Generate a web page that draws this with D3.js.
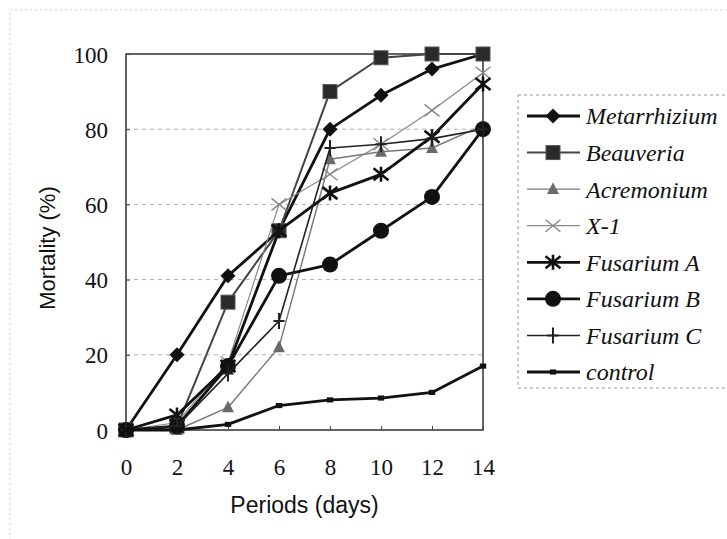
<!DOCTYPE html>
<html>
<head>
<meta charset="utf-8">
<script src="https://cdn.jsdelivr.net/npm/d3@7"></script>
<style>
body { margin: 0; background: #fff; }
svg { display: block; }
</style>
</head>
<body>
<svg id="chart" width="727" height="539"></svg>
<script>
// days on the x axis
var days = [0, 2, 4, 6, 8, 10, 12, 14];
var yTicks = [0, 20, 40, 60, 80, 100];

var metarrhizium = [0, 20, 41, 53, 80, 89, 96, 100];
var beauveria    = [0, 1, 34, 53, 90, 99, 100, 100];
var acremonium   = [0, 0, 6, 22, 72, 74, 75, 81];
var x1           = [0, 2, 18, 60, 68, 76, 85, 95];
var fusariumA    = [0, 4, 17, 53, 63, 68, 78, 92];
var fusariumB    = [0, 1, 17, 41, 44, 53, 62, 80];
var fusariumC    = [0, 1, 15, 29, 75, 76, 77.5, 80];
var control      = [0, 0, 1.5, 6.5, 8, 8.5, 10, 17];

var seriesNames = ["Metarrhizium", "Beauveria", "Acremonium", "X-1",
                   "Fusarium A", "Fusarium B", "Fusarium C", "control"];
var seriesValues = [metarrhizium, beauveria, acremonium, x1,
                    fusariumA, fusariumB, fusariumC, control];

// look of each series
var styles = [
  {line: "#111", width: 2.8, marker: "diamond",  fill: "#111", size: 7.5},
  {line: "#444", width: 2.0, marker: "square",   fill: "#2a2a2a", size: 7},
  {line: "#777", width: 1.4, marker: "triangle", fill: "#6a6a6a", size: 7},
  {line: "#888", width: 1.2, marker: "cross",    fill: "none", size: 7.5},
  {line: "#111", width: 2.8, marker: "asterisk", fill: "none", size: 7.5},
  {line: "#111", width: 2.8, marker: "circle",   fill: "#111", size: 8},
  {line: "#222", width: 1.6, marker: "plus",     fill: "none", size: 8},
  {line: "#111", width: 2.8, marker: "dash",     fill: "#111", size: 3.2}
];

var svg = d3.select("#chart");
var margin = {top: 54, left: 126, right: 244, bottom: 109};
var width = 727 - margin.left - margin.right;
var height = 539 - margin.top - margin.bottom;

var x = d3.scaleLinear().domain([0, 14]).range([0, width]);
var y = d3.scaleLinear().domain([0, 100]).range([height, 0]);

// faint outer frame
svg.append("rect")
  .attr("x", 10).attr("y", 10).attr("width", 730).attr("height", 540)
  .attr("fill", "none").attr("stroke", "#ccc").attr("stroke-dasharray", "2,3");

var g = svg.append("g").attr("transform", "translate(" + margin.left + "," + margin.top + ")");

// gridlines
g.selectAll(".grid")
  .data(yTicks.filter(function(d){ return d > 0 && d < 100; }))
  .enter().append("line")
  .attr("x1", 0).attr("x2", width)
  .attr("y1", function(d){ return y(d); })
  .attr("y2", function(d){ return y(d); })
  .attr("stroke", "#999").attr("stroke-width", 0.8)
  .attr("stroke-dasharray", "4,4");

// plot frame
g.append("rect")
  .attr("width", width).attr("height", height)
  .attr("fill", "none").attr("stroke", "#222").attr("stroke-width", 1.4);

// axes
var yAxis = g.append("g")
  .call(d3.axisLeft(y).tickValues(yTicks).tickSize(-4).tickPadding(18));
var xAxis = g.append("g")
  .attr("transform", "translate(0," + height + ")")
  .call(d3.axisBottom(x).tickValues(days).tickSize(-4).tickPadding(30));
[yAxis, xAxis].forEach(function(a){
  a.select(".domain").remove();
  a.selectAll("line").attr("stroke", "#444");
  a.selectAll("text")
    .style("font-family", "'Liberation Serif', 'Times New Roman', serif")
    .style("font-size", "23px").attr("fill", "#111");
});
yAxis.selectAll("text").attr("dy", "0.35em");
xAxis.selectAll("text").attr("dy", "0.35em").attr("y", 37);

// axis titles
svg.append("text")
  .attr("transform", "translate(55," + (margin.top + height / 2 + 6) + ") rotate(-90)")
  .attr("text-anchor", "middle")
  .style("font-family", "'Liberation Sans', Arial, sans-serif")
  .style("font-size", "22px").attr("fill", "#111")
  .text("Mortality (%)");
svg.append("text")
  .attr("x", margin.left + width / 2).attr("y", 513)
  .attr("text-anchor", "middle")
  .style("font-family", "'Liberation Sans', Arial, sans-serif")
  .style("font-size", "23px").attr("fill", "#111")
  .text("Periods (days)");

// marker drawing
function drawMarker(sel, st) {
  var s = st.size;
  var sw = st.marker == "cross" ? 1.4 : 2;
  if (st.marker == "diamond") {
    sel.append("path").attr("d", "M0," + (-s) + "L" + s + ",0L0," + s + "L" + (-s) + ",0Z")
      .attr("fill", st.fill);
  } else if (st.marker == "square") {
    sel.append("rect").attr("x", -s).attr("y", -s).attr("width", 2 * s).attr("height", 2 * s)
      .attr("fill", st.fill).attr("stroke", "#555").attr("stroke-width", 1);
  } else if (st.marker == "triangle") {
    sel.append("path").attr("d", "M0," + (-s) + "L" + (s * 0.85) + "," + (s * 0.7) + "L" + (-s * 0.85) + "," + (s * 0.7) + "Z")
      .attr("fill", st.fill);
  } else if (st.marker == "circle") {
    sel.append("circle").attr("r", s).attr("fill", st.fill);
  } else if (st.marker == "dash") {
    sel.append("rect").attr("x", -s).attr("y", -s * 0.8).attr("width", 2 * s).attr("height", 1.6 * s)
      .attr("fill", st.fill);
  } else {
    var d = "";
    if (st.marker == "cross" || st.marker == "asterisk")
      d += "M" + (-s) + "," + (-s * 0.8) + "L" + s + "," + (s * 0.8) + "M" + (-s) + "," + (s * 0.8) + "L" + s + "," + (-s * 0.8);
    if (st.marker == "plus" || st.marker == "asterisk")
      d += "M0," + (-s) + "L0," + s;
    if (st.marker == "plus")
      d += "M" + (-s * 0.7) + ",0L" + (s * 0.7) + ",0";
    sel.append("path").attr("d", d).attr("fill", "none")
      .attr("stroke", st.line).attr("stroke-width", st.marker == "asterisk" ? 2.6 : sw);
  }
}

var line = d3.line()
  .x(function(d, i){ return x(days[i]); })
  .y(function(d){ return y(d); });

seriesValues.forEach(function(vals, k){
  var st = styles[k];
  var sg = g.append("g");
  sg.append("path")
    .datum(vals)
    .attr("d", line)
    .attr("fill", "none")
    .attr("stroke", st.line)
    .attr("stroke-width", st.width)
    .attr("stroke-linejoin", "round");
  sg.selectAll(".m")
    .data(vals)
    .enter().append("g")
    .attr("transform", function(d, i){ return "translate(" + x(days[i]) + "," + y(d) + ")"; })
    .each(function(){ drawMarker(d3.select(this), st); });
});

// legend
var legend = svg.append("g");
legend.append("rect")
  .attr("x", 518).attr("y", 95).attr("width", 230).attr("height", 293)
  .attr("fill", "none").attr("stroke", "#999").attr("stroke-dasharray", "3,3");

var legendY = d3.scalePoint().domain(seriesNames).range([116, 372]);
seriesNames.forEach(function(name, k){
  var st = styles[k];
  var row = legend.append("g").attr("transform", "translate(0," + legendY(name) + ")");
  row.append("line").attr("x1", 527).attr("x2", 580)
    .attr("stroke", st.line).attr("stroke-width", st.width);
  var mk = row.append("g").attr("transform", "translate(553,0)");
  drawMarker(mk, st);
  row.append("text")
    .attr("x", 586).attr("dy", "0.35em")
    .style("font-family", "'Liberation Serif', 'Times New Roman', serif")
    .style("font-style", "italic")
    .style("font-size", "24px").attr("fill", "#111")
    .text(name);
});
</script>
</body>
</html>
